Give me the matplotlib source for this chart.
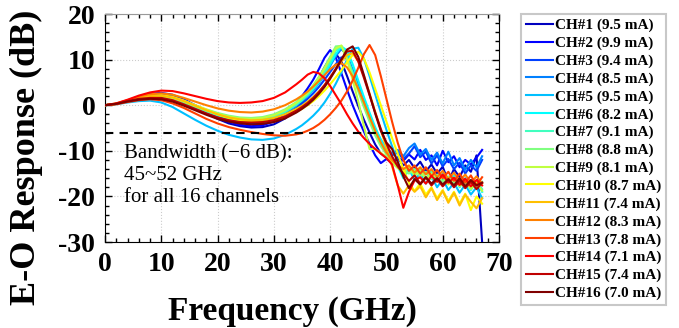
import matplotlib
matplotlib.use("Agg")
import matplotlib.pyplot as plt

# ── Data ─────────────────────────────────────────────────────────────────────

FREQ_GHZ = [0, 2, 4, 6, 8, 10, 12, 14, 16, 18, 20, 22, 24, 26, 28, 30, 32, 34,
            35, 36, 37, 38, 39, 40, 41, 42, 43, 44, 45, 46, 47, 48, 49, 50,
            51, 52, 53, 54, 55, 56, 57, 58, 59, 60, 61, 62, 63, 64, 65, 66, 67]

ch01 = [0, 0.3, 0.9, 1.6, 2.0, 2.1, 1.7, 0.8, -0.4, -1.7, -3.0, -4.0, -4.6, -4.9, -4.8, -4.2, -2.9, -0.8,
        0.6, 2.2, 4.0, 6.0, 8.3, 10.4, 11.3, 9.6, 6.4, 3.0, -0.2, -3.2, -6.0, -8.6, -10.6, -11.5,
        -12.8, -11.6, -13.2, -12.0, -13.8, -12.4, -14.5, -13.0, -15.0, -13.5, -16.8, -14.0, -15.8, -13.2, -14.6, -11.0, -30]
ch02 = [0, 0.3, 1.0, 1.8, 2.5, 2.7, 2.3, 1.3, 0.0, -1.3, -2.6, -3.6, -4.3, -4.6, -4.4, -3.6, -2.0, 0.5,
        2.0, 3.7, 5.6, 7.9, 10.4, 12.1, 10.5, 7.0, 3.4, 0.0, -3.0, -5.8, -8.5, -11.0, -12.7, -11.8,
        -12.6, -11.4, -12.2, -10.8, -11.9, -9.8, -12.0, -11.0, -13.2, -10.0, -12.5, -11.2, -13.6, -12.0, -13.0, -11.5, -9.8]
ch03 = [0, 0.3, 1.0, 1.7, 2.1, 2.2, 1.8, 0.9, -0.2, -1.4, -2.5, -3.3, -3.8, -4.0, -3.8, -3.2, -2.1, -0.6,
        0.3, 1.4, 2.6, 4.0, 5.6, 7.3, 9.0, 10.5, 10.2, 7.6, 4.2, 0.8, -2.6, -5.6, -8.2, -10.0,
        -11.0, -10.4, -11.8, -10.6, -9.0, -11.4, -10.2, -12.8, -11.0, -13.4, -11.8, -14.0, -12.6, -15.0, -13.2, -14.4, -12.0]
ch04 = [0, 0.3, 1.0, 1.8, 2.2, 2.3, 1.9, 1.0, 0.0, -1.1, -2.1, -2.9, -3.4, -3.6, -3.4, -2.8, -1.7, -0.1,
        0.9, 2.0, 3.3, 4.8, 6.6, 8.6, 10.8, 12.3, 11.0, 7.8, 4.2, 0.8, -2.4, -5.2, -7.6, -9.4,
        -10.6, -9.8, -11.2, -9.4, -8.4, -10.8, -9.6, -12.0, -10.4, -12.8, -10.2, -13.2, -11.6, -14.2, -12.0, -13.6, -11.2]
ch05 = [0, 0.2, 0.6, 0.9, 1.0, 0.6, -0.4, -1.8, -3.2, -4.5, -5.6, -6.5, -7.1, -7.5, -7.6, -7.3, -6.5, -5.2,
        -4.4, -3.4, -2.3, -1.0, 0.6, 2.5, 4.7, 7.2, 10.0, 12.4, 12.6, 10.2, 6.4, 2.4, -1.6, -5.4,
        -9.0, -12.4, -15.6, -14.0, -16.4, -15.0, -17.2, -15.6, -18.0, -16.2, -18.6, -17.0, -19.2, -17.4, -19.6, -18.0, -20.4]
ch06 = [0, 0.3, 0.9, 1.5, 1.9, 1.9, 1.5, 0.7, -0.3, -1.2, -2.0, -2.6, -3.0, -3.1, -2.9, -2.3, -1.3, 0.2,
        1.1, 2.2, 3.5, 5.0, 6.8, 8.9, 11.2, 12.9, 12.0, 9.0, 5.4, 1.8, -1.6, -4.8, -7.6, -9.8,
        -11.6, -13.4, -16.0, -14.2, -15.6, -13.8, -16.2, -14.4, -16.8, -15.0, -17.2, -15.4, -18.0, -16.0, -18.6, -16.6, -19.0]
ch07 = [0, 0.3, 0.9, 1.5, 1.9, 1.9, 1.5, 0.6, -0.4, -1.4, -2.2, -2.9, -3.3, -3.4, -3.2, -2.6, -1.5, 0.1,
        1.1, 2.3, 3.7, 5.3, 7.3, 9.6, 12.0, 12.9, 10.6, 7.2, 3.6, 0.2, -3.0, -6.0, -8.6, -10.6,
        -12.0, -13.0, -14.6, -13.4, -15.2, -14.0, -16.0, -14.6, -16.6, -15.2, -17.0, -15.8, -17.6, -16.2, -18.0, -16.8, -18.4]
ch08 = [0, 0.3, 1.0, 1.6, 2.0, 2.1, 1.7, 0.9, 0.0, -0.9, -1.7, -2.3, -2.7, -2.8, -2.6, -2.0, -0.9, 0.7,
        1.7, 2.9, 4.4, 6.2, 8.3, 10.6, 12.9, 13.0, 10.2, 6.6, 3.0, -0.4, -3.6, -6.6, -9.0, -10.8,
        -12.2, -13.2, -14.2, -15.0, -14.0, -15.6, -14.6, -16.2, -15.2, -16.8, -15.6, -17.2, -16.0, -17.6, -16.4, -18.0, -16.8]
ch09 = [0, 0.3, 1.0, 1.6, 2.0, 2.0, 1.6, 0.8, -0.2, -1.1, -1.9, -2.5, -2.9, -3.0, -2.8, -2.2, -1.1, 0.5,
        1.5, 2.7, 4.2, 6.0, 8.0, 10.2, 12.4, 13.1, 10.0, 5.6, 0.8, -4.6, -9.6, -9.6, -10.4, -11.4,
        -12.6, -13.8, -14.6, -13.6, -15.4, -14.4, -16.2, -15.0, -16.8, -15.6, -17.4, -16.0, -17.8, -16.6, -18.4, -17.0, -18.8]
ch10 = [0, 0.3, 1.0, 1.7, 2.1, 2.2, 1.8, 1.0, 0.0, -1.0, -2.0, -2.8, -3.3, -3.6, -3.6, -3.3, -2.6, -1.5,
        -0.8, 0.0, 0.9, 2.0, 3.2, 4.6, 6.1, 7.7, 9.4, 11.0, 11.7, 10.2, 7.2, 3.6, 0.0, -3.6,
        -7.2, -10.6, -14.0, -17.0, -18.8, -17.2, -19.6, -18.0, -20.4, -18.6, -21.0, -19.0, -21.6, -19.4, -23.0, -20.0, -21.6]
ch11 = [0, 0.3, 1.0, 1.6, 2.0, 2.1, 1.7, 0.9, -0.1, -1.1, -2.0, -2.7, -3.1, -3.3, -3.2, -2.8, -2.0, -0.8,
        -0.1, 0.8, 1.8, 3.0, 4.4, 6.0, 7.8, 9.6, 11.0, 11.4, 9.6, 6.4, 2.6, -1.4, -5.4, -9.4,
        -13.4, -17.6, -19.4, -17.6, -19.0, -17.8, -20.2, -18.2, -20.8, -18.8, -21.4, -19.2, -22.0, -19.6, -21.2, -22.6, -20.4]
ch12 = [0, 0.4, 1.1, 1.9, 2.4, 2.6, 2.3, 1.6, 0.8, 0.0, -0.7, -1.2, -1.5, -1.6, -1.4, -0.9, 0.0, 1.3,
        2.1, 3.0, 4.1, 5.3, 6.6, 7.9, 8.9, 9.2, 8.3, 6.3, 3.6, 0.6, -2.6, -5.6, -8.2, -10.4,
        -12.0, -13.2, -14.0, -13.2, -14.8, -13.6, -15.2, -14.0, -15.8, -14.4, -16.2, -14.8, -16.6, -15.2, -17.0, -15.6, -17.2]
ch13 = [0, 0.2, 0.7, 1.1, 1.3, 1.1, 0.4, -0.6, -1.8, -3.0, -4.0, -4.8, -5.4, -5.9, -6.3, -6.6, -6.7, -6.4,
        -6.1, -5.6, -5.0, -4.2, -3.2, -2.0, -0.6, 1.0, 3.0, 5.4, 8.2, 11.2, 13.2, 11.0, 6.4, 1.4,
        -3.6, -8.2, -12.0, -14.4, -13.2, -15.0, -13.6, -15.6, -14.2, -16.0, -14.6, -16.6, -15.0, -17.0, -15.4, -17.6, -15.8]
ch14 = [0, 0.4, 1.2, 2.1, 2.8, 3.2, 3.1, 2.6, 2.0, 1.4, 0.9, 0.6, 0.5, 0.6, 0.9, 1.6, 2.8, 4.6,
        5.6, 6.7, 7.3, 7.0, 5.9, 4.2, 2.2, 0.2, -2.0, -4.0, -5.8, -7.2, -8.5, -9.6, -10.6, -11.6,
        -13.0, -17.5, -22.5, -19.0, -16.5, -15.8, -17.2, -15.5, -16.8, -15.2, -17.0, -15.9, -17.5, -16.1, -17.8, -16.4, -17.6]
ch15 = [0, 0.3, 0.9, 1.4, 1.6, 1.6, 1.1, 0.2, -0.8, -1.8, -2.7, -3.3, -3.7, -3.8, -3.7, -3.3, -2.5, -1.2,
        -0.4, 0.5, 1.6, 2.9, 4.4, 6.1, 8.0, 10.0, 11.8, 11.9, 9.6, 6.0, 2.2, -1.6, -5.2, -8.4,
        -11.2, -13.4, -15.0, -16.6, -15.4, -17.2, -15.8, -17.6, -16.2, -17.8, -16.4, -18.0, -16.6, -18.2, -16.8, -18.4, -17.0]
ch16 = [0, 0.3, 0.8, 1.2, 1.4, 1.3, 0.8, -0.1, -1.1, -2.1, -3.0, -3.6, -4.0, -4.2, -4.1, -3.7, -2.9, -1.6,
        -0.8, 0.1, 1.2, 2.5, 4.0, 5.8, 7.8, 10.0, 12.2, 12.9, 10.6, 6.6, 2.4, -1.8, -5.6, -8.2,
        -9.6, -12.4, -15.6, -18.2, -16.2, -17.4, -15.8, -17.2, -16.0, -17.4, -16.2, -17.6, -16.0, -17.8, -16.4, -17.6, -17.0]

RESPONSES = [ch01, ch02, ch03, ch04, ch05, ch06, ch07, ch08,
             ch09, ch10, ch11, ch12, ch13, ch14, ch15, ch16]
BIAS_MA = [9.5, 9.9, 9.4, 8.5, 9.5, 8.2, 9.1, 8.8,
           8.1, 8.7, 7.4, 8.3, 7.8, 7.1, 7.4, 7.0]
THRESHOLD_DB = -6

# 16-step jet palette, one per channel
COLOURS = [(0, 0, 0.75), (0, 0, 1), (0, 0.25, 1), (0, 0.5, 1),
           (0, 0.75, 1), (0, 1, 1), (0.25, 1, 0.75), (0.5, 1, 0.5),
           (0.75, 1, 0.25), (1, 1, 0), (1, 0.75, 0), (1, 0.5, 0),
           (1, 0.25, 0), (1, 0, 0), (0.75, 0, 0), (0.5, 0, 0)]

# ── Plot ─────────────────────────────────────────────────────────────────────

plt.rcParams["font.family"] = ["Liberation Serif", "DejaVu Serif"]
plt.rcParams["axes.unicode_minus"] = False

W, H = 679, 328
fig = plt.figure(figsize=(W / 100, H / 100), dpi=100)
ax = fig.add_axes([105 / W, 1 - 242 / H, (499 - 105) / W, (242 - 14) / H])

handles = []
for i, resp in enumerate(RESPONSES):
    ln, = ax.plot(FREQ_GHZ, resp, color=COLOURS[i], linewidth=1.5,
                  label=f"CH#{i + 1} ({BIAS_MA[i]:.1f} mA)", zorder=3 + i * 0.01)
    handles.append(ln)

ax.axhline(THRESHOLD_DB, color="black", linewidth=1.5, linestyle=(0, (4, 3)), zorder=5)

ax.set_xlim(0, 70)
ax.set_ylim(-30, 20)
ax.set_xticks(range(0, 71, 10))
ax.set_yticks(range(-30, 21, 10))
ax.set_xticks(range(0, 71, 2), minor=True)
ax.set_yticks(range(-30, 21, 2), minor=True)
ax.tick_params(which="both", direction="in", top=True, right=True, width=1)
ax.tick_params(which="major", length=5, labelsize=20, pad=7)
ax.tick_params(which="minor", length=3)
for lab in ax.get_xticklabels() + ax.get_yticklabels():
    lab.set_fontweight("bold")
ax.grid(True, which="major", linestyle=":", color="#cccccc", linewidth=0.8)
ax.spines["top"].set_color("#999999")

ax.set_xlabel("Frequency (GHz)", fontsize=24, fontweight="bold")
ax.set_ylabel("E-O Response (dB)", fontsize=26, fontweight="bold")
ax.xaxis.set_label_coords(0.475, -0.235)
ax.yaxis.set_label_coords(-0.158, 0.37)

ax.text(3.3, -8.5, "Bandwidth (\u22126 dB):\n45~52 GHz\nfor all 16 channels",
        fontsize=15, va="top", ha="left", linespacing=1.2)

leg = fig.legend(handles=handles, loc="upper left",
                 bbox_to_anchor=(521 / W, 1 - 14 / H),
                 prop={"weight": "bold", "size": 11},
                 frameon=True, fancybox=False, edgecolor="#bbbbbb",
                 handlelength=1.8, handletextpad=0.15, labelspacing=0.26,
                 borderpad=0.3, borderaxespad=0)
leg.get_frame().set_linewidth(1.5)

plt.savefig("out.png", dpi=100)
plt.close()
